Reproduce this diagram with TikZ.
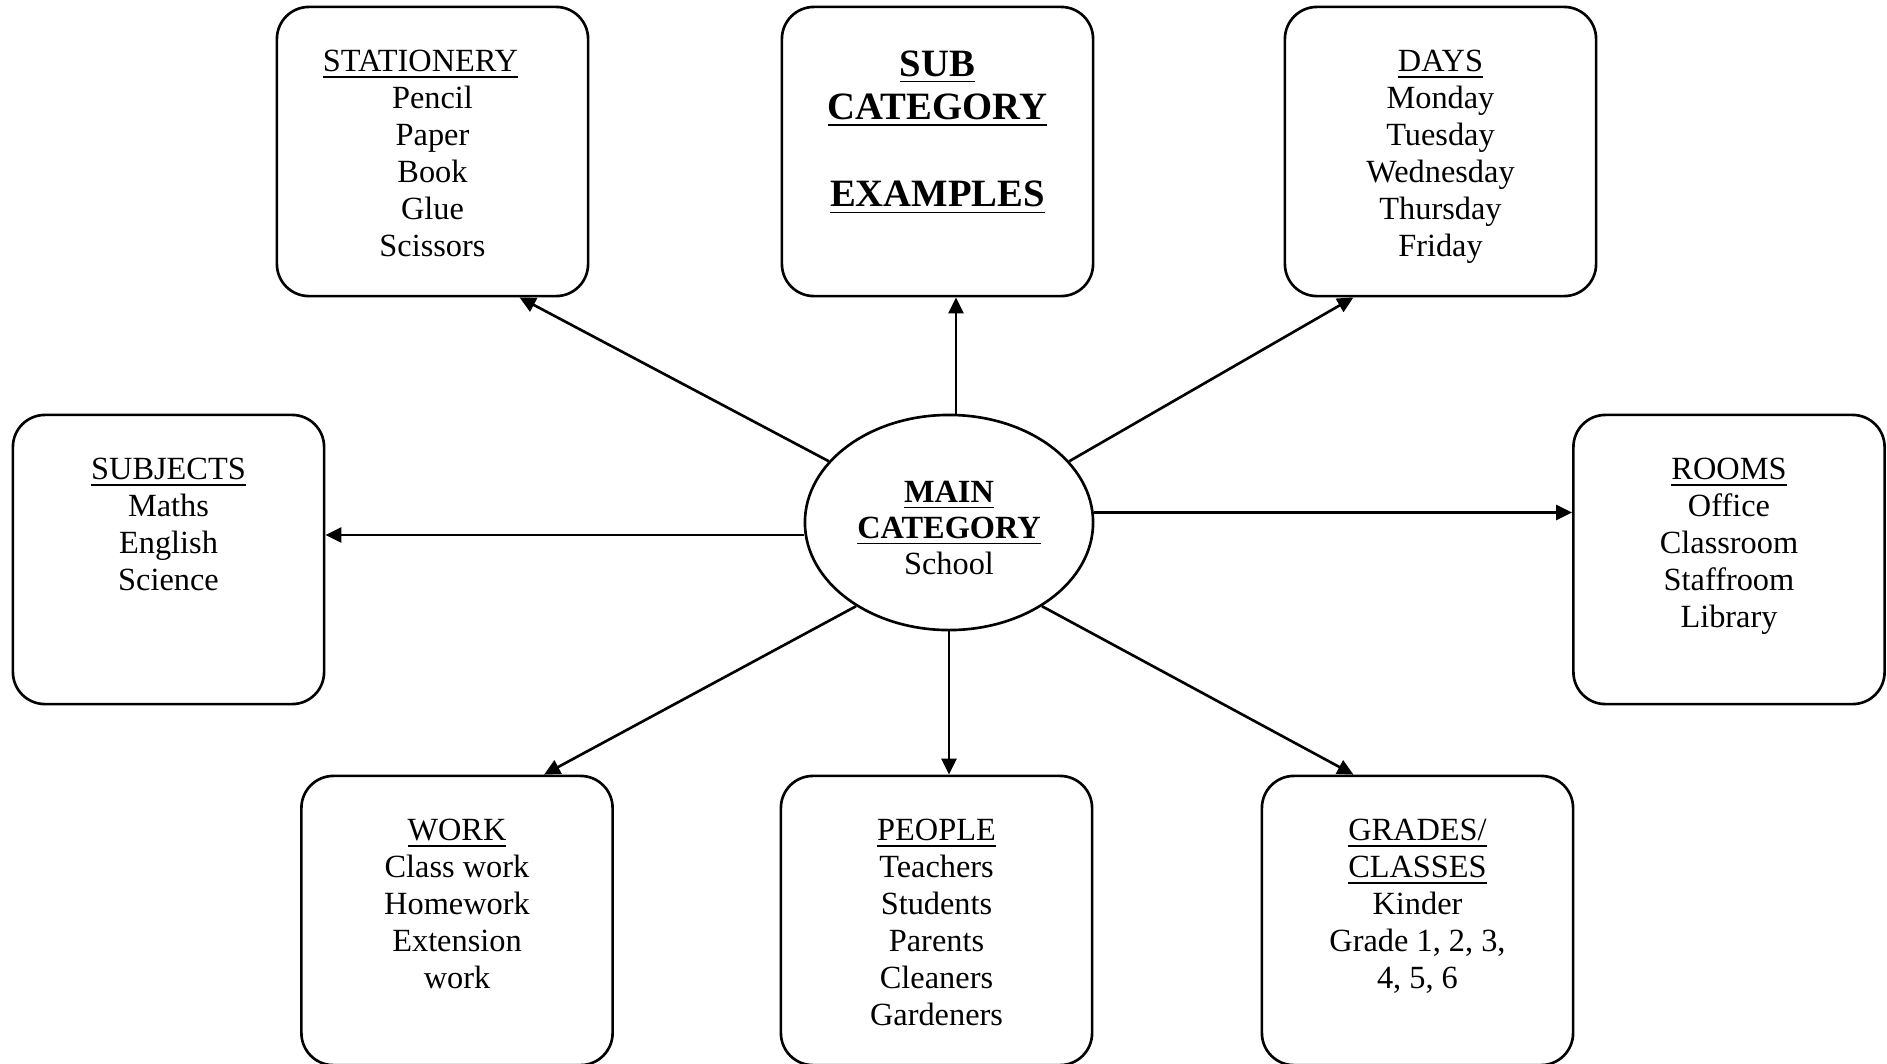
\documentclass[tikz,border=0pt]{standalone}
\usepackage{fontspec}
\setmainfont{Liberation Serif}
\usetikzlibrary{arrows.meta,shapes.geometric}
\def\hd#1{\underline{#1}}
\tikzset{
	catbox/.style={draw, line width=0.75pt, rounded corners=0.32cm, minimum width=3.11cm, minimum height=2.89cm, inner sep=0pt},
	cattext/.style={anchor=north, align=center, inner sep=0pt, font=\fontsize{9.2}{10.5}\selectfont},
	arr/.style={line width=0.75pt, -{Triangle[length=0.16cm, width=0.15cm]}}
}

\begin{document}
\begin{tikzpicture}[x=0.01cm, y=-0.01cm]
		%%%%% START %%%%%
		\useasboundingbox (0, 0) rectangle (1887, 1063);
		
		\node[draw, ellipse, line width=0.75pt, minimum width=2.88cm, minimum height=2.15cm, inner sep=0pt] (main) at (949, 522.5) {};
		\node[cattext, anchor=center, font=\fontsize{9.2}{10.3}\selectfont] (maintxt) at ([yshift=-0.055cm]main.center) {\textbf{\hd{MAIN}}\\ \textbf{\hd{CATEGORY}}\\ School};
		
		% top row
		\node[catbox] (stat) at (432.5, 151.5) {};
		\node[cattext] (stattxt) at ([yshift=-0.44cm]stat.north) {\hd{STATIONERY}\hspace*{0.24cm}\\ Pencil\\ Paper\\ Book\\ Glue\\ Scissors};
		\node[catbox] (sub) at (937.5, 151.5) {};
		\node[cattext, font=\fontsize{11}{12.3}\selectfont\bfseries] (subtxt) at ([yshift=-0.445cm]sub.north) {\hd{SUB}\\ \hd{CATEGORY}\\[0.44cm] \hd{EXAMPLES}};
		\node[catbox] (days) at (1440.5, 151.5) {};
		\node[cattext] (daystxt) at ([yshift=-0.44cm]days.north) {\hd{DAYS}\\ Monday\\ Tuesday\\ Wednesday\\ Thursday\\ Friday};
		
		% middle row
		\node[catbox] (subj) at (168.5, 559.5) {};
		\node[cattext] (subjtxt) at ([yshift=-0.44cm]subj.north) {\hd{SUBJECTS}\\ Maths\\ English\\ Science};
		\node[catbox] (rooms) at (1729, 559.5) {};
		\node[cattext] (roomstxt) at ([yshift=-0.44cm]rooms.north) {\hd{ROOMS}\\ Office\\ Classroom\\ Staffroom\\ Library};
		
		% bottom row
		\node[catbox] (work) at (457, 920.5) {};
		\node[cattext] (worktxt) at ([yshift=-0.44cm]work.north) {\hd{WORK}\\ Class work\\ Homework\\ Extension\\ work};
		\node[catbox] (people) at (936.5, 920.5) {};
		\node[cattext] (peopletxt) at ([yshift=-0.44cm]people.north) {\hd{PEOPLE}\\ Teachers\\ Students\\ Parents\\ Cleaners\\ Gardeners};
		\node[catbox] (grades) at (1417.5, 920.5) {};
		\node[cattext] (gradestxt) at ([yshift=-0.44cm]grades.north) {\hd{GRADES/}\\ \hd{CLASSES}\\ Kinder\\ Grade 1, 2, 3,\\ 4, 5, 6};
		
		% arrows
		\draw[arr] (main.153) -- ([xshift=0.87cm]stat.south);
		\draw[arr] ([xshift=0.07cm]main.north) -- ([xshift=0.07cm]main.north |- sub.south);
		\draw[arr] (main.27) -- ([xshift=-0.87cm]days.south);
		\draw[arr] ([yshift=-0.125cm]main.west) -- ([yshift=-0.125cm]main.west -| subj.east);
		\draw[arr] ([yshift=0.1cm]main.east) -- ([yshift=0.1cm]main.east -| rooms.west);
		\draw[arr] (main.222) -- ([xshift=0.87cm]work.north);
		\draw[arr] (main.south) -- (main.south |- people.north);
		\draw[arr] (main.318) -- ([xshift=-0.64cm]grades.north);
		
		%%%%% END %%%%%
\end{tikzpicture}
\end{document}
